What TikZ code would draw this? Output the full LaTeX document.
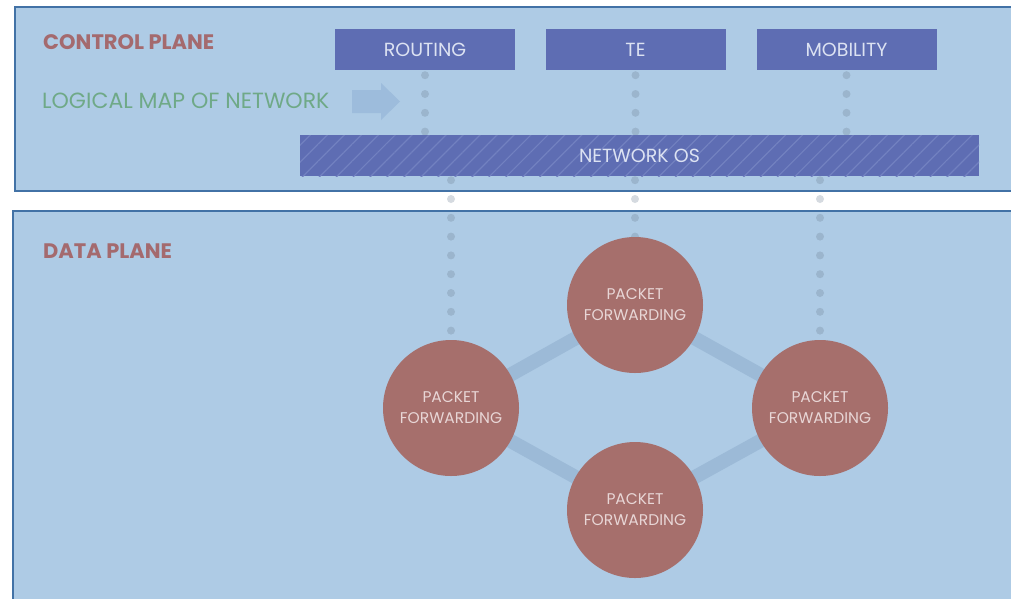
\documentclass[tikz,border=0pt]{standalone}
\usepackage{fontspec}
\setmainfont{Poppins}
\usetikzlibrary{patterns.meta}
\definecolor{panelbg}{HTML}{AECBE5}
\definecolor{panelborder}{HTML}{4272A6}
\definecolor{boxfill}{HTML}{5E6DB3}
\definecolor{hatch}{HTML}{7281C0}
\definecolor{boxtext}{HTML}{DCE2F2}
\definecolor{circfill}{HTML}{A66F6C}
\definecolor{circtext}{HTML}{E8D6D6}
\definecolor{titlecol}{HTML}{A46A6E}
\definecolor{greencol}{HTML}{6FA987}
\definecolor{arrowcol}{HTML}{9DBCDC}
\definecolor{linkcol}{HTML}{9CBAD7}
\definecolor{dotcol}{HTML}{6A7C90}
\tikzset{
  panel/.style={draw=panelborder, line width=2.5pt, fill=panelbg},
  appbox/.style={fill=boxfill, minimum width=180pt, minimum height=41pt, inner sep=0pt,
    text=boxtext, font=\fontsize{19}{21}\selectfont},
  pf/.style={circle, fill=circfill, minimum size=136pt, inner sep=0pt, text=circtext,
    align=center, font=\fontsize{15.5}{21}\selectfont},
  dots/.style={line width=8pt, line cap=round, draw=dotcol, draw opacity=0.28,
    dash pattern=on 0pt off 18.8pt},
  link/.style={line width=14pt, draw=linkcol},
  title/.style={text=titlecol, font=\bfseries\fontsize{21}{23}\selectfont, anchor=west, inner sep=0pt},
}
\begin{document}
\begin{tikzpicture}[x=1pt,y=-1pt]
\useasboundingbox (0,0) rectangle (1011,598);
\fill[white] (0,0) rectangle (1011,598);
% panels
\path[panel] (15,7) rectangle (1030,191);
\path[panel] (13,211) rectangle (1030,620);
% titles
\node[title] (cp) at (43,42) {CONTROL PLANE};
\node[title] (dp) at (43,251) {DATA PLANE};
\node[text=greencol, font=\fontsize{22}{24}\selectfont, anchor=west, inner sep=0pt] (lm) at (42,101) {LOGICAL MAP OF NETWORK};
\fill[arrowcol] (352,90) -- (381,90) -- (381,83) -- (400,101.5) -- (381,120) -- (381,113) -- (352,113) -- cycle;
% app boxes
\node[appbox] (rt) at (425,49.5) {ROUTING};
\node[appbox] (te) at (635.5,49.5) {TE};
\node[appbox] (mob) at (846.5,49.5) {MOBILITY};
% network OS position
\coordinate (nosc) at (639.5,155.5);
% circles
\coordinate (ctop) at (635,305);
\coordinate (cleft) at (451,408);
\coordinate (cright) at (820,408);
\coordinate (cbot) at (635,510);
% links
\draw[link] (ctop) -- (cleft) -- (cbot) -- (cright) -- cycle;
% network OS box (placeholder for anchors)
\node[minimum width=679pt, minimum height=41pt, inner sep=0pt] (nos) at (nosc) {};
% dotted connectors above
\draw[dots, dash phase=-5pt] (rt.south) -- (rt.south |- nos.north);
\draw[dots, dash phase=-5pt] (te.south) -- (te.south |- nos.north);
\draw[dots, dash phase=-5pt] (mob.south) -- (mob.south |- nos.north);
% dotted connectors below
\draw[dots, dash phase=-4pt] (nos.south -| cleft) -- (cleft |- 0,340);
\draw[dots, dash phase=-4pt] (nos.south -| ctop) -- (ctop |- 0,237);
\draw[dots, dash phase=-4pt] (nos.south -| cright) -- (cright |- 0,340);
% network OS
\node[fill=boxfill, minimum width=679pt, minimum height=41pt, inner sep=0pt,
  postaction={pattern={Lines[angle=45,distance=12pt,line width=1.2pt]}, pattern color=hatch},
  text=boxtext, font=\fontsize{19}{21}\selectfont] (nos2) at (nosc) {NETWORK OS};
% circles
\node[pf] (pt) at (ctop) {PACKET\\FORWARDING};
\node[pf] (pl) at (cleft) {PACKET\\FORWARDING};
\node[pf] (pr) at (cright) {PACKET\\FORWARDING};
\node[pf] (pb) at (cbot) {PACKET\\FORWARDING};
\end{tikzpicture}
\end{document}
